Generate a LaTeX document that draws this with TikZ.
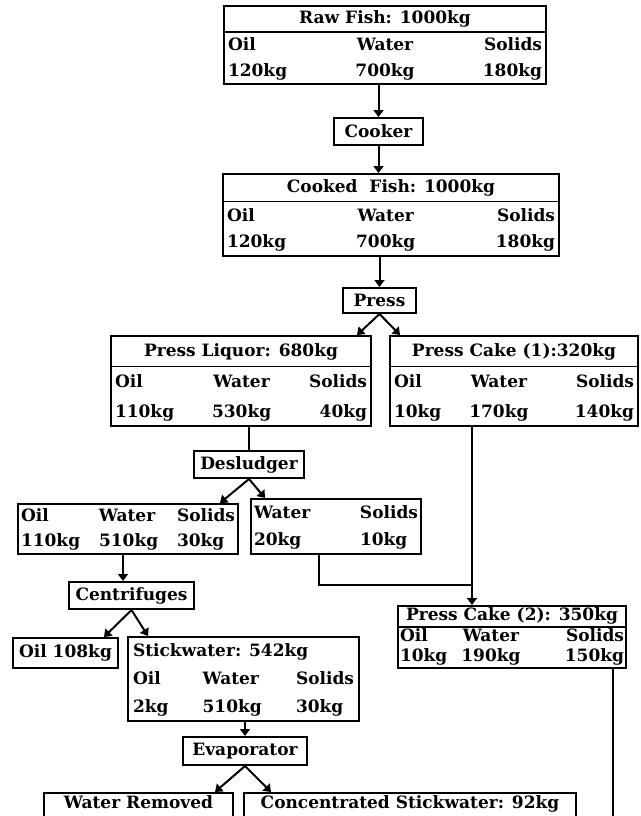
\documentclass[tikz,border=0pt]{standalone}
\usepackage{fontspec}
\setmainfont{DejaVu Serif}
\usetikzlibrary{arrows.meta}
\setlength{\arrayrulewidth}{1.5pt}
% stream box: title, rule, then the oil / water / solids split
\newcommand{\masstab}[3]{%
  \begin{tabular*}{#1}{@{\hspace{4pt}\extracolsep{\fill}}lcr@{\hspace{4pt}}}
    \multicolumn{3}{c}{#2}\\ \hline
    Oil & Water & Solids\\
    #3
  \end{tabular*}}

\begin{document}
\begin{tikzpicture}[x=1pt,y=-1pt,font=\fontsize{17}{20}\selectfont\bfseries,
  stream/.style={draw,line width=2pt,inner sep=0pt,anchor=north west},
  unit/.style={draw,line width=2pt,inner xsep=3pt,inner ysep=0pt,anchor=north west,minimum height=27pt},
  rows/.style={execute at begin node={\renewcommand{\arraystretch}{#1}}},
  flow/.style={line width=2pt,-{Triangle[width=10pt,length=7pt]}},
  pipe/.style={line width=2pt}]
\useasboundingbox (0,0) rectangle (640,816);
\clip (0,0) rectangle (640,816);

\node[stream,rows=1.27] (raw) at (223,5) {\masstab{322pt}{Raw Fish: 1000kg}{120kg & 700kg & 180kg}};
\node[unit,minimum width=89pt] (cooker) at (333,117) {Cooker};
\node[stream,rows=1.34] (cooked) at (222,173) {\masstab{336pt}{Cooked~ Fish: 1000kg}{120kg & 700kg & 180kg}};
\node[unit,minimum width=73pt,minimum height=25pt] (press) at (342,287) {Press};

\node[stream,rows=1.475] (liquor) at (110,335) {\masstab{260pt}{Press Liquor: 680kg}{110kg & 530kg & 40kg}};
\node[stream,rows=1.475] (cake1) at (389,335) {\masstab{248pt}{Press Cake (1):320kg}{10kg & 170kg & 140kg}};
\node[unit,minimum width=110pt] (desludger) at (193,450) {Desludger};

\node[stream,rows=1.25] (clarified) at (17,503) {\begin{tabular*}{220pt}{@{\hspace{3pt}\extracolsep{\fill}}lll@{\hspace{3pt}}}
  Oil & Water & Solids\\ 110kg & 510kg & 30kg\end{tabular*}};
\node[stream,rows=1.375] (sludge) at (250,498) {\begin{tabular*}{170pt}{@{\hspace{3pt}\extracolsep{\fill}}ll@{\hspace{3pt}}}
  Water & Solids\\ 20kg & 10kg\end{tabular*}};
\node[unit,minimum width=125pt] (centrifuges) at (68,581) {Centrifuges};

\node[stream,inner xsep=3pt,minimum width=105pt,minimum height=30pt] (oil) at (12,637) {Oil 108kg};
\node[stream,rows=1.4] (stick) at (127,636) {\begin{tabular*}{231pt}{@{\hspace{5pt}\extracolsep{\fill}}lll@{\hspace{5pt}}}
  \multicolumn{3}{@{\hspace{5pt}}l}{Stickwater: 542kg}\\ Oil & Water & Solids\\ 2kg & 510kg & 30kg\end{tabular*}};
\node[unit,minimum width=124pt,minimum height=28pt] (evaporator) at (182,736) {Evaporator};
\node[unit,minimum width=189pt,minimum height=0pt,text height=15pt,text depth=22pt] (removed) at (43,792) {Water Removed};
\node[unit,minimum width=332pt,minimum height=0pt,text height=15pt,text depth=22pt] (concentrate) at (243,792) {Concentrated Stickwater: 92kg};

\node[stream,rows=1.0] (cake2) at (397,605) {\begin{tabular*}{228pt}{@{\hspace{2pt}\extracolsep{\fill}}lcr@{\hspace{2pt}}}
  \multicolumn{3}{c}{Press Cake (2): 350kg}\\ \hline Oil & Water & Solids\\ 10kg & 190kg & 150kg\end{tabular*}};

\coordinate (merge) at (472,585);
\coordinate (meal) at (613,830);

% main line
\draw[flow] (raw.south -| cooker.north) -- (cooker.north);
\draw[flow] (cooker.south) -- (cooker.south |- cooked.north);
\draw[flow] (cooked.south -| press.north) -- (press.north);
\draw[flow] (press.south) -- ([xshift=-15pt]liquor.north east);
\draw[flow] (press.south) -- ([xshift=11pt]cake1.north west);

% liquor side
\draw[pipe] (liquor.south -| desludger.north) -- (desludger.north);
\draw[flow] (desludger.south) -- ([xshift=-19pt]clarified.north east);
\draw[flow] (desludger.south) -- ([xshift=15pt]sludge.north west);
\draw[flow] (clarified.south -| 123,0) -- (centrifuges.north -| 123,0);
\draw[flow] (centrifuges.south) -- ([xshift=-15pt]oil.north east);
\draw[flow] (centrifuges.south) -- ([xshift=21pt]stick.north west);
\draw[flow] (stick.south -| evaporator.north) -- (evaporator.north);
\draw[flow] (evaporator.south) -- ([xshift=-19pt]removed.north east);
\draw[flow] (evaporator.south) -- ([xshift=28pt]concentrate.north west);

% cake side
\draw[pipe] ([xshift=-17pt]sludge.south) |- (merge);
\draw[pipe] (merge |- cake1.south) -- (merge);
\draw[flow] (merge) -- (merge |- cake2.north);
\draw[pipe] (meal |- cake2.south) -- (meal);
\end{tikzpicture}
\end{document}
